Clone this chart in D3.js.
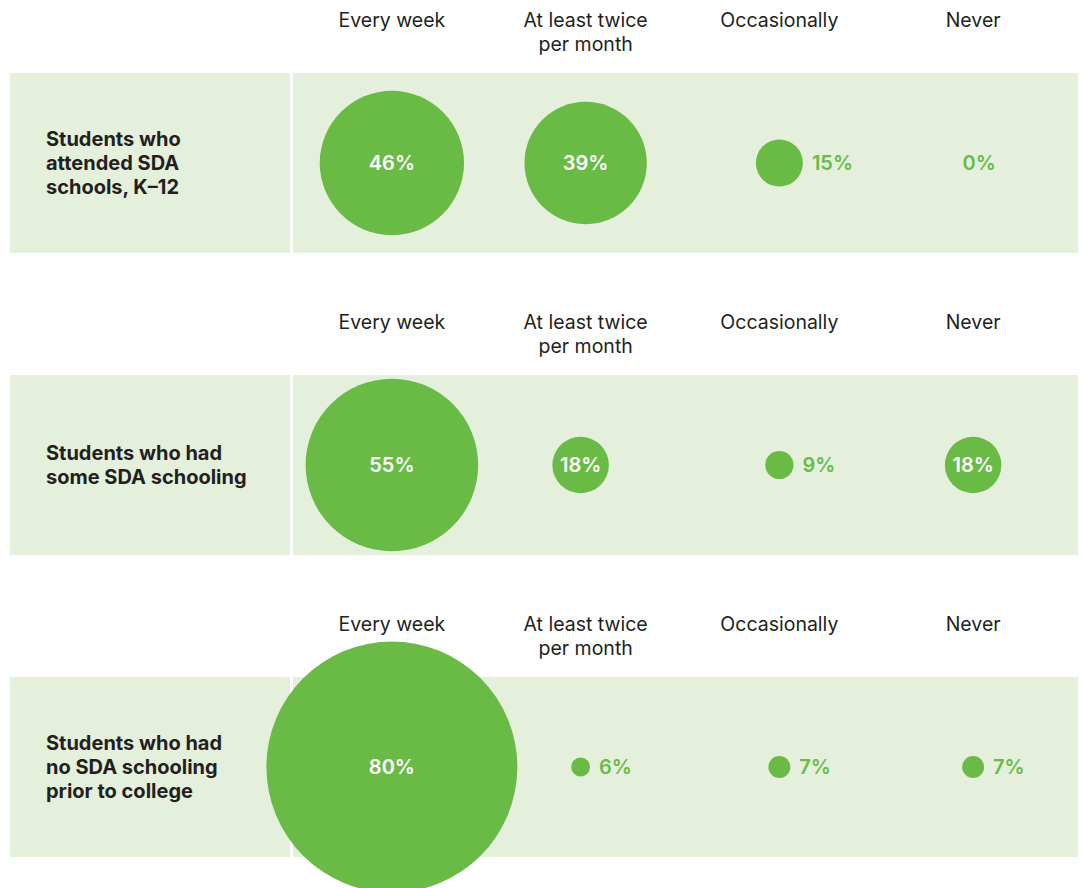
<!DOCTYPE html>
<html>
<head>
<meta charset="utf-8">
<script src="https://cdn.jsdelivr.net/npm/d3@7"></script>
<style>
  body { margin: 0; background: #fff; }
  svg { display: block; font-family: Inter, "Noto Sans", sans-serif; }
</style>
</head>
<body>
<svg id="chart"></svg>
<script>
const frequencies = ['Every week', 'At least twice per month', 'Occasionally', 'Never'];
const headerLines = [['Every week'], ['At least twice', 'per month'], ['Occasionally'], ['Never']];
const groups = [
  ['Students who', 'attended SDA', 'schools, K\u201312'],
  ['Students who had', 'some SDA schooling'],
  ['Students who had', 'no SDA schooling', 'prior to college']
];
const attendedK12 = [46, 39, 15, 0];
const someSchooling = [55, 18, 9, 18];
const noSchooling = [80, 6, 7, 7];
const series = [attendedK12, someSchooling, noSchooling];

const width = 1083;
const height = 888;
const green = '#6abb46';
const band = '#e4f0dc';
const ink = '#231f20';

const svg = d3.select('#chart')
  .attr('width', width)
  .attr('height', height);

const xScale = d3.scaleBand().domain(frequencies).range([295, 1070]);
const rScale = d3.scaleLinear().domain([0, 80]).range([0, 125.5]);
const yScale = d3.scaleBand().domain(d3.range(groups.length)).range([73, 979]);

const panelH = 180;
const colX = f => xScale(f) + xScale.bandwidth() / 2;
// the original nudges the small bubbles of the 2nd column a bit left in the lower panels
const nudge = (i, j) => (i > 0 && j === 1 ? -5 : 0);

const panels = svg.selectAll('g.panel')
  .data(groups.map((g, i) => ({ label: g, values: series[i], i })))
  .enter().append('g')
    .attr('class', 'panel')
    .attr('transform', d => `translate(0, ${yScale(d.i)})`);

// background bands
panels.append('rect')
  .attr('x', 10).attr('y', 0)
  .attr('width', 280).attr('height', panelH)
  .attr('fill', band);
panels.append('rect')
  .attr('x', 293).attr('y', 0)
  .attr('width', 1078 - 293).attr('height', panelH)
  .attr('fill', band);

// column headers
panels.each(function () {
  const g = d3.select(this);
  frequencies.forEach((f, j) => {
    const t = g.append('text')
      .attr('x', colX(f))
      .attr('y', -53)
      .attr('text-anchor', 'middle')
      .attr('dominant-baseline', 'central')
      .attr('font-size', 19.5)
      .attr('fill', ink);
    headerLines[j].forEach((line, k) => {
      t.append('tspan')
        .attr('x', colX(f))
        .attr('dy', k === 0 ? 0 : 24)
        .text(line);
    });
  });
});

// group labels
panels.append('text')
  .attr('x', 46)
  .attr('font-size', 20)
  .attr('font-weight', 700)
  .attr('fill', ink)
  .attr('dominant-baseline', 'central')
  .each(function (d) {
    const n = d.label.length;
    d3.select(this).selectAll('tspan')
      .data(d.label)
      .enter().append('tspan')
        .attr('x', 46)
        .attr('y', (l, k) => panelH / 2 + (k - (n - 1) / 2) * 24)
        .text(l => l);
  });

// bubbles
const cells = panels.selectAll('g.cell')
  .data(d => d.values.map((v, j) => ({ v, f: frequencies[j], i: d.i, j })))
  .enter().append('g')
    .attr('class', 'cell')
    .attr('transform', d => {
      const shift = rScale(d.v) < 40 ? nudge(d.i, d.j) : 0;
      return `translate(${colX(d.f) + shift}, ${panelH / 2})`;
    });

cells.append('circle')
  .attr('r', d => rScale(d.v))
  .attr('fill', green);

cells.append('text')
  .attr('x', d => {
    const r = rScale(d.v);
    if (r >= 25) return 0;
    return r === 0 ? 6 : r + 9;
  })
  .attr('text-anchor', d => (rScale(d.v) >= 25 || d.v === 0) ? 'middle' : 'start')
  .attr('dominant-baseline', 'central')
  .attr('font-size', 20)
  .attr('font-weight', 600)
  .attr('fill', d => rScale(d.v) >= 25 ? '#fff' : green)
  .text(d => `${d.v}%`);
</script>
</body>
</html>
